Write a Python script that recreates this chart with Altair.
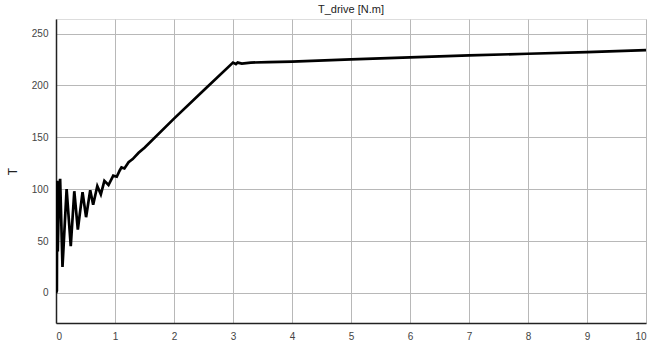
import altair as alt
import pandas as pd

# time [s]
t_vals = [0, 0.015, 0.02, 0.03, 0.05, 0.07, 0.11, 0.18, 0.25, 0.31, 0.37, 0.45, 0.51,
          0.58, 0.63, 0.70, 0.76, 0.82, 0.89, 0.97, 1.03, 1.08, 1.11, 1.16, 1.23,
          1.30, 1.40, 1.50, 2.0, 2.5, 3.0, 3.05, 3.08, 3.15, 3.3, 3.6, 4, 5, 6,
          7, 8, 9, 10]
# torque T_drive [N.m]
T_vals = [0, 2, 108, 40, 95, 110, 25, 100, 45, 98, 61, 97, 73,
          99, 85, 103, 95, 108, 104, 113, 112, 118, 121, 120, 126,
          129, 135, 140, 168, 195, 222, 220.5, 222, 221, 222, 222.5, 223, 225, 227,
          229, 230.5, 232, 234]

x_ticks = list(range(0, 11))
y_ticks = [0, 50, 100, 150, 200, 250]

df = pd.DataFrame({"t": t_vals, "T": T_vals})

FONT = "Liberation Sans"

chart = alt.Chart(df).mark_line(color="black", strokeWidth=2.7, clip=True).encode(
    x=alt.X("t:Q", scale=alt.Scale(domain=[0, 10], nice=False, zero=False),
            axis=alt.Axis(values=x_ticks, title=None, grid=True, ticks=False,
                          domain=True, domainColor="#222222", domainWidth=1.5,
                          labelPadding=8, labelFontSize=10,
                          labelColor="#444444", labelFont=FONT,
                          gridColor="#b8b8b8", gridWidth=1, format="d",
                          zindex=0)),
    y=alt.Y("T:Q", scale=alt.Scale(domain=[-29, 264], nice=False, zero=False),
            axis=alt.Axis(values=y_ticks, title="T", grid=True, ticks=False,
                          domain=True, domainColor="#222222", domainWidth=1.5,
                          labelPadding=8, labelFontSize=10,
                          labelColor="#444444", labelFont=FONT,
                          gridColor="#b8b8b8", gridWidth=1,
                          titleFont=FONT, titleFontSize=12, titleFontWeight="normal",
                          titleColor="#222222", titleX=-37, titleY=152,
                          zindex=0)),
).properties(
    width=590,
    height=304,
    title=alt.TitleParams("T_drive [N.m]", fontSize=11, fontWeight="normal",
                          font=FONT, color="#222222", offset=4, anchor="middle"),
    autosize=alt.AutoSizeParams(type="none"),
    padding={"left": 56, "top": 19, "right": 7, "bottom": 24},
).configure_view(
    stroke="#222222", strokeWidth=1.5
).configure(background="white")

chart.save("out.html", embed_options={"renderer": "svg", "actions": False})
